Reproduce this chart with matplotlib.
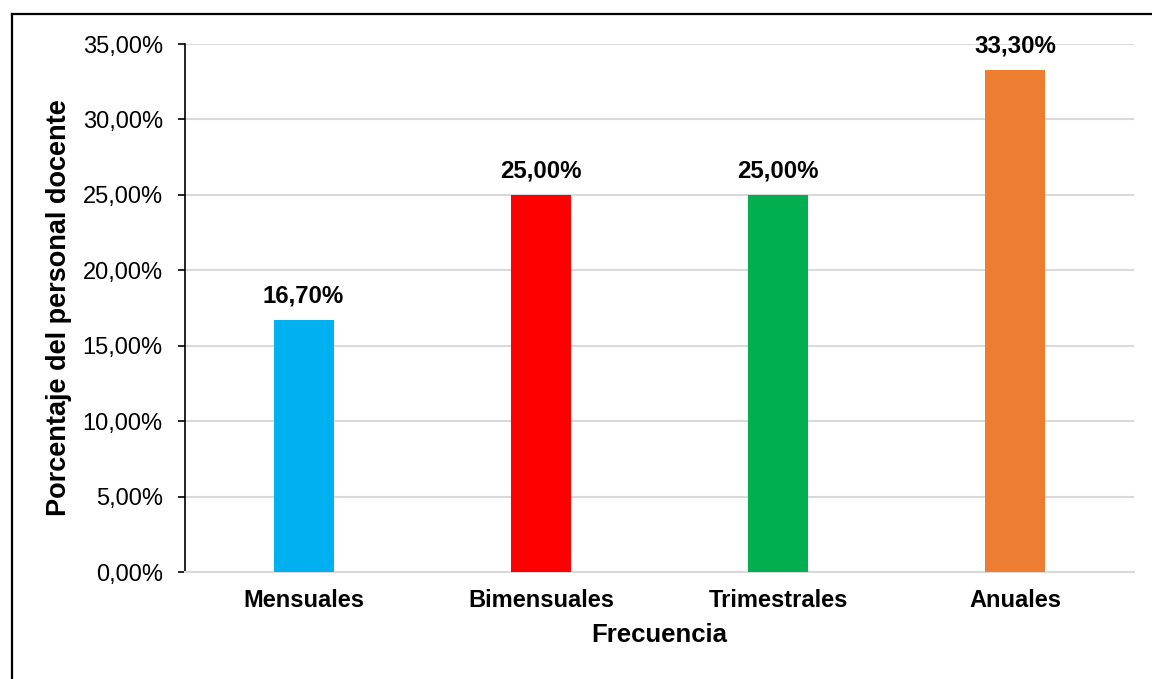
import matplotlib.pyplot as plt
from matplotlib.lines import Line2D
from matplotlib.ticker import FuncFormatter

plt.rcParams['font.family'] = ['Liberation Sans', 'DejaVu Sans']

categorias = ['Mensuales', 'Bimensuales', 'Trimestrales', 'Anuales']
porcentajes = [16.70, 25.00, 25.00, 33.30]
colores = ['#00B0F0', '#FF0000', '#00B050', '#ED7D31']
yticks = [0, 5, 10, 15, 20, 25, 30, 35]

fig = plt.figure(figsize=(11.52, 6.79), dpi=100)
ax = fig.add_axes([185/1152, 1 - 572/679, (1134 - 185)/1152, (572 - 44)/679])

x = range(len(categorias))
bars = ax.bar(x, porcentajes, width=0.253, color=colores, zorder=3)

for xi, v in zip(x, porcentajes):
    ax.annotate(f'{v:.2f}%'.replace('.', ','), (xi, v), xytext=(0, 9),
                textcoords='offset points', ha='center', va='bottom',
                fontsize=17.3, fontweight='bold')

ax.set_xlim(-0.5, len(categorias) - 0.5)
ax.set_ylim(0, 35)
ax.set_yticks(yticks)
ax.yaxis.set_major_formatter(FuncFormatter(lambda v, p: f'{v:.2f}%'.replace('.', ',')))
ax.set_xticks(list(x))
ax.set_xticklabels(categorias, fontsize=17, fontweight='bold')

ax.grid(axis='y', color='#D9D9D9', linewidth=1.5, zorder=0)
ax.tick_params(axis='y', direction='out', length=5, width=1.2, pad=11, labelsize=17)
ax.tick_params(axis='x', length=0, pad=12)

for s in ['top', 'right']:
    ax.spines[s].set_visible(False)
ax.spines['left'].set_color('black')
ax.spines['left'].set_linewidth(1.2)
ax.spines['bottom'].set_color('#D9D9D9')
ax.spines['bottom'].set_linewidth(1.5)

ax.set_xlabel('Frecuencia', fontsize=18.5, fontweight='bold', labelpad=8)
ax.set_ylabel('Porcentaje del personal docente', fontsize=19.5, fontweight='bold', labelpad=8)

# marco exterior del gráfico
fig.add_artist(Line2D([12/1152, 1], [1 - 14/679] * 2, color='black', lw=1.6))
fig.add_artist(Line2D([12/1152] * 2, [0, 1 - 14/679], color='black', lw=1.6))

fig.savefig('out.png', dpi=100)
